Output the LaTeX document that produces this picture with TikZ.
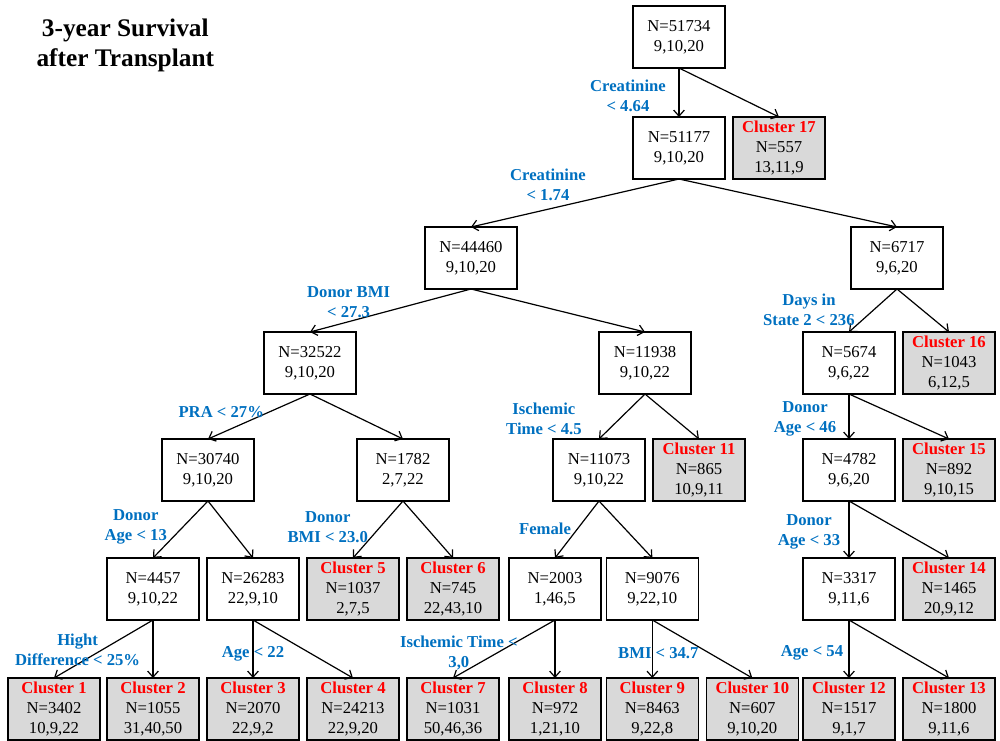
\documentclass[tikz,border=0pt]{standalone}
\usepackage{fontspec}
\setmainfont{Liberation Serif}
\usetikzlibrary{arrows.meta,positioning}
\definecolor{condblue}{HTML}{0070C0}
\definecolor{clusterred}{HTML}{FF0000}
\definecolor{leafgray}{HTML}{D9D9D9}
\newcommand{\cl}[1]{\textbf{\textcolor{clusterred}{Cluster #1}}}

\begin{document}
\begin{tikzpicture}[
  node distance=36pt and 6pt,
  every node/.style={font=\fontsize{12.5}{15}\selectfont},
  box/.style={draw,line width=1.2pt,align=center,inner sep=0pt,outer sep=0pt,minimum width=69pt,minimum height=46.5pt},
  leaf/.style={box,fill=leafgray},
  cond/.style={align=center,inner sep=0pt,text=condblue,font=\fontsize{12.5}{15}\selectfont\bfseries},
  heading/.style={align=center,inner sep=0pt,font=\fontsize{19}{22.5}\selectfont\bfseries},
  arr/.style={-{Straight Barb[length=4.5pt,width=8pt]},line width=0.9pt}
]
\useasboundingbox (-509.25pt,27.75pt) rectangle (240.75pt,-527.25pt);
% upper part
\node[box] (n51734) at (0,0) {N=51734\\9,10,20};
\node[heading,left=314pt of n51734,yshift=-6pt] (title) {3-year Survival\\after Transplant};
\node[box,below=36.75pt of n51734] (n51177) {N=51177\\9,10,20};
\node[leaf,right=of n51177] (c17) {\cl{17}\\N=557\\13,11,9};
\node[box,below=36pt of n51177,xshift=-156pt] (n44460) {N=44460\\9,10,20};
\node[box,below=36pt of n51177,xshift=163.5pt] (n6717) {N=6717\\9,6,20};
\node[box,below=32.25pt of n44460,xshift=-120.75pt] (n32522) {N=32522\\9,10,20};
\node[box,below=32.25pt of n44460,xshift=130.5pt] (n11938) {N=11938\\9,10,22};
\node[box,below=32.25pt of n6717,xshift=-36pt] (n5674) {N=5674\\9,6,22};
\node[leaf,right=of n5674] (c16) {\cl{16}\\N=1043\\6,12,5};
\node[box,below=33.75pt of n32522,xshift=-76.5pt] (n30740) {N=30740\\9,10,20};
\node[box,below=33.75pt of n32522,xshift=69.75pt] (n1782) {N=1782\\2,7,22};
\node[box,below=33.75pt of n11938,xshift=-34.5pt] (n11073) {N=11073\\9,10,22};
\node[leaf,right=of n11073] (c11) {\cl{11}\\N=865\\10,9,11};
\node[box,below=33.75pt of n5674] (n4782) {N=4782\\9,6,20};
\node[leaf,right=of n4782] (c15) {\cl{15}\\N=892\\9,10,15};
% lower part
\node[box,below=42.75pt of n30740,xshift=-41.25pt] (n4457) {N=4457\\9,10,22};
\node[box,right=of n4457] (n26283) {N=26283\\22,9,10};
\node[leaf,below=42.75pt of n1782,xshift=-37.5pt] (c5) {\cl{5}\\N=1037\\2,7,5};
\node[leaf,right=of c5] (c6) {\cl{6}\\N=745\\22,43,10};
\node[box,below=42.75pt of n11073,xshift=-33pt] (n2003) {N=2003\\1,46,5};
\node[box,right=4pt of n2003] (n9076) {N=9076\\9,22,10};
\node[box,below=42.75pt of n4782] (n3317) {N=3317\\9,11,6};
\node[leaf,right=of n3317] (c14) {\cl{14}\\N=1465\\20,9,12};
\node[leaf,below=43.5pt of n4457,xshift=-74.25pt] (c1) {\cl{1}\\N=3402\\10,9,22};
\node[leaf,below=43.5pt of n4457] (c2) {\cl{2}\\N=1055\\31,40,50};
\node[leaf,below=43.5pt of n26283] (c3) {\cl{3}\\N=2070\\22,9,2};
\node[leaf,right=of c3] (c4) {\cl{4}\\N=24213\\22,9,20};
\node[leaf,below=43.5pt of c6] (c7) {\cl{7}\\N=1031\\50,46,36};
\node[leaf,below=43.5pt of n2003] (c8) {\cl{8}\\N=972\\1,21,10};
\node[leaf,below=43.5pt of n9076] (c9) {\cl{9}\\N=8463\\9,22,8};
\node[leaf,right=of c9] (c10) {\cl{10}\\N=607\\9,10,20};
\node[leaf,below=43.5pt of n3317] (c12) {\cl{12}\\N=1517\\9,1,7};
\node[leaf,right=of c12] (c13) {\cl{13}\\N=1800\\9,11,6};
% splits
\draw[arr] (n51734.south)--node[cond,pos=0.57,xshift=-38.25pt] (q1) {Creatinine\\< 4.64} (n51177.north);
\draw[arr] (n51734.south)--(c17.north);
\draw[arr] (n51177.south)--node[cond,pos=0.63,yshift=18.2pt] (q2) {Creatinine\\< 1.74} (n44460.north);
\draw[arr] (n51177.south)--(n6717.north);
\draw[arr] (n44460.south)--node[cond,pos=0.76,yshift=14.7pt] (q3) {Donor BMI\\< 27.3} (n32522.north);
\draw[arr] (n44460.south)--(n11938.north);
\draw[arr] (n6717.south)--node[cond,pos=0.49,xshift=-48.4pt] (q4) {Days in\\State 2 < 236} (n5674.north);
\draw[arr] (n6717.south)--(c16.north);
\draw[arr] (n32522.south)--node[cond,pos=0.87,yshift=16pt] (q5) {PRA < 27\%} (n30740.north);
\draw[arr] (n32522.south)--(n1782.north);
\draw[arr] (n11938.south)--node[cond,pos=0.56,xshift=-56.5pt] (q6) {Ischemic\\Time < 4.5} (n11073.north);
\draw[arr] (n11938.south)--(c11.north);
\draw[arr] (n5674.south)--node[cond,pos=0.56,xshift=-33pt] (q7) {Donor\\Age < 46} (n4782.north);
\draw[arr] (n5674.south)--(c15.north);
\draw[arr] (n30740.south)--node[cond,pos=0.46,xshift=-35.2pt] (q8) {Donor\\Age < 13} (n4457.north);
\draw[arr] (n30740.south)--(n26283.north);
\draw[arr] (n1782.south)--node[cond,pos=0.46,xshift=-39.2pt] (q9) {Donor\\BMI < 23.0} (c5.north);
\draw[arr] (n1782.south)--(c6.north);
\draw[arr] (n11073.south)--node[cond,pos=0.49,xshift=-24.3pt] (q10) {Female} (n2003.north);
\draw[arr] (n11073.south)--(n9076.north);
\draw[arr] (n4782.south)--node[cond,pos=0.54,xshift=-30pt] (q11) {Donor\\Age < 33} (n3317.north);
\draw[arr] (n4782.south)--(c14.north);
\draw[arr] (n4457.south)--node[cond,pos=0.52,xshift=-17.9pt] (q12) {Hight\\Difference < 25\%} (c1.north);
\draw[arr] (n4457.south)--(c2.north);
\draw[arr] (n26283.south)--node[cond,pos=0.59] (q13) {Age < 22} (c3.north);
\draw[arr] (n26283.south)--(c4.north);
\draw[arr] (n2003.south)--node[cond,pos=0.57,xshift=-28.5pt] (q14) {Ischemic Time <\\3,0} (c7.north);
\draw[arr] (n2003.south)--(c8.north);
\draw[arr] (n9076.south)--node[cond,pos=0.57,xshift=4.5pt] (q15) {BMI < 34.7} (c9.north);
\draw[arr] (n9076.south)--(c10.north);
\draw[arr] (n3317.south)--node[cond,pos=0.57,xshift=-27.75pt] (q16) {Age < 54} (c12.north);
\draw[arr] (n3317.south)--(c13.north);
\end{tikzpicture}
\end{document}
